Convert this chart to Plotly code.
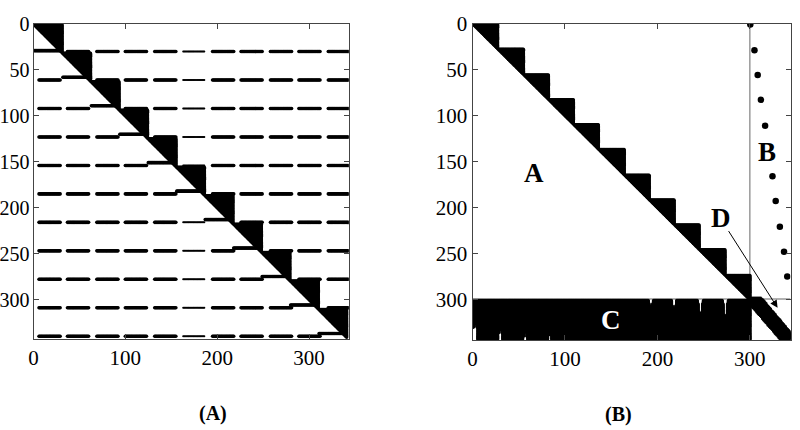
import plotly.graph_objects as go

FONT = "Liberation Serif"

# ---------------- Panel A : sparsity pattern ----------------
A_RANGE = 343
A_BLOCK_FIRST = [1, 32, 63, 94, 125, 156, 187, 218, 249, 280, 311]
A_BLOCK_LAST = [31, 62, 93, 124, 155, 186, 217, 248, 279, 310, 341]
A_COUPLING_ROWS = [30, 61, 92, 123, 154, 185, 216, 247, 278, 309, 340]
A_LEDGE_ROWS = [29, 58, 89, 120, 151, 182, 213, 244, 275, 306, 337]
A_DASH_FIRST = [6, 37, 69, 100, 132, 163, 195, 226, 258, 289, 321]
A_DASH_LAST = [29, 60, 92, 123, 155, 186, 218, 249, 281, 312, 344]
A_THIN_DASH = 5
A_TICKS_X = [0, 100, 200, 300]
A_TICKS_Y = [0, 50, 100, 150, 200, 250, 300]

# ---------------- Panel B : reordered pattern ----------------
B_RANGE = 344
B_BLOCK_EDGES = [0, 27, 55, 82, 109, 136, 164, 191, 218, 245, 273, 300]
B_DOT_ROWS = [1, 29, 56, 83, 111, 138, 166, 193, 221, 248, 275]
B_DOT_COLS = [300.5, 305, 308.5, 312, 316.5, 320.5, 324.5, 328, 332.5, 337, 340.5]
C_ROWS = (301, 344)
C_COLS = (1, 300)
# white slivers inside block C: (centre col, first row, last row, width at first row, width at last row)
C_GAPS = [
    (3, 324, 344, 0, 3),
    (30, 329, 344, 0, 2),
    (57, 333, 344, 0, 1.5),
    (83.5, 336, 344, 0, 1.5),
    (193, 301, 309, 2, 0),
    (218, 301, 313, 2, 0),
    (246.5, 301, 317, 2.5, 0),
    (273.5, 301, 321, 2.5, 0),
]
D_ROWS = list(range(300, 344))
D_LEFT = [300, 300, 300, 300, 301, 302, 303, 303, 304, 305,
          306, 307, 308, 309, 309, 310, 311, 312, 313, 314,
          315, 315, 316, 317, 318, 319, 320, 321, 321, 322,
          323, 324, 325, 326, 327, 327, 328, 329, 330, 331,
          332, 333, 333, 334]
D_RIGHT = [312, 313, 314, 315, 316, 316, 317, 318, 319, 320,
           321, 321, 322, 323, 324, 325, 326, 326, 327, 328,
           329, 330, 331, 332, 332, 333, 334, 335, 336, 337,
           337, 338, 339, 340, 341, 342, 343, 343, 343, 343,
           343, 343, 343, 343]
B_TICKS_X = [0, 100, 200, 300]
B_TICKS_Y = [0, 50, 100, 150, 200, 250, 300]

MARK = 3.6          # px

# ---------- build panel A points ----------
ax_, ay_ = [], []
tx_, ty_ = [], []
for k, (f, l) in enumerate(zip(A_BLOCK_FIRST, A_BLOCK_LAST)):
    for r in range(f, l + 1):
        for c in range(r, l + 1):
            ax_.append(c); ay_.append(r)
    row = A_COUPLING_ROWS[k]
    for j, (df, dl) in enumerate(zip(A_DASH_FIRST, A_DASH_LAST)):
        if j == k:
            for c in range(f, f + 29):
                ax_.append(c); ay_.append(A_LEDGE_ROWS[k])
            continue
        for c in range(df, dl + 1):
            if j == A_THIN_DASH:
                tx_.append(c); ty_.append(row)
            else:
                ax_.append(c); ay_.append(row)

# ---------- build panel B points ----------
bx, by = [], []
for k in range(len(B_BLOCK_EDGES) - 1):
    lo, hi = B_BLOCK_EDGES[k] + 1, B_BLOCK_EDGES[k + 1]
    for r in range(lo, hi + 1):
        for c in range(r, hi + 1):
            bx.append(c); by.append(r)


def c_excluded(r, c):
    for cc, r0, r1, w0, w1 in C_GAPS:
        if r0 <= r <= r1:
            w = w0 + (w1 - w0) * (r - r0) / (r1 - r0)
            if w > 0.4 and abs(c - cc) < (w + 3.0) / 2:
                return True
    return False


for r in range(C_ROWS[0], C_ROWS[1] + 1):
    for c in range(C_COLS[0], C_COLS[1] + 1):
        if not c_excluded(r, c):
            bx.append(c); by.append(r)

dx, dy = [], []
for r, lo, hi in zip(D_ROWS, D_LEFT, D_RIGHT):
    for c in range(lo, hi + 1):
        dx.append(c); dy.append(r)

fig = go.Figure()
fig.add_trace(go.Scatter(x=ax_, y=ay_, mode="markers", xaxis="x", yaxis="y",
                         marker=dict(size=MARK, color="black", line=dict(width=0)),
                         hoverinfo="skip", showlegend=False))
fig.add_trace(go.Scatter(x=tx_, y=ty_, mode="markers", xaxis="x", yaxis="y",
                         marker=dict(size=2.0, color="black", line=dict(width=0)),
                         hoverinfo="skip", showlegend=False))
fig.add_trace(go.Scatter(x=bx, y=by, mode="markers", xaxis="x2", yaxis="y2",
                         marker=dict(size=MARK, color="black", line=dict(width=0)),
                         hoverinfo="skip", showlegend=False))
fig.add_trace(go.Scatter(x=dx, y=dy, mode="markers", xaxis="x2", yaxis="y2",
                         marker=dict(size=4.5, symbol="cross", color="black", line=dict(width=0)),
                         hoverinfo="skip", showlegend=False))
fig.add_trace(go.Scatter(x=B_DOT_COLS, y=B_DOT_ROWS, mode="markers", xaxis="x2", yaxis="y2",
                         marker=dict(size=6.5, color="black", line=dict(width=0)),
                         hoverinfo="skip", showlegend=False))

W, H = 800, 430
axis_common = dict(showgrid=False, zeroline=False, showline=True, linecolor="#444",
                   linewidth=1, mirror="ticks", ticks="inside", ticklen=5, tickcolor="#444",
                   automargin=False)
tick21 = dict(family=FONT, size=21, color="black")
tick20 = dict(family=FONT, size=20, color="black")

fig.update_layout(
    width=W, height=H, margin=dict(l=0, r=0, t=0, b=0, autoexpand=False),
    paper_bgcolor="white", plot_bgcolor="white",
    xaxis=dict(domain=[33.5 / W, 348.5 / W], range=[0, A_RANGE], tickvals=A_TICKS_X,
               anchor="y", tickfont=tick21, **axis_common),
    yaxis=dict(domain=[1 - 339 / H, 1 - 24 / H], range=[A_RANGE, 0], tickvals=A_TICKS_Y,
               anchor="x", ticklabelstandoff=-1, tickfont=tick20, **axis_common),
    xaxis2=dict(domain=[472.5 / W, 790.5 / W], range=[0, B_RANGE], tickvals=B_TICKS_X,
                anchor="y2", tickfont=tick21, **axis_common),
    yaxis2=dict(domain=[1 - 340 / H, 1 - 23.5 / H], range=[B_RANGE, 0], tickvals=B_TICKS_Y,
                anchor="x2", tickfont=tick21, **axis_common),
    shapes=[
        dict(type="line", xref="x2", yref="y2", x0=300, x1=300, y0=0, y1=B_RANGE,
             line=dict(color="#999999", width=1.5), layer="below"),
        dict(type="line", xref="x2", yref="y2", x0=0, x1=B_RANGE, y0=299.5, y1=299.5,
             line=dict(color="#999999", width=1.5), layer="below"),
    ],
    annotations=[
        dict(x=67, y=162, xref="x2", yref="y2", text="<b>A</b>", showarrow=False,
             font=dict(family=FONT, size=27, color="black")),
        dict(x=319, y=140, xref="x2", yref="y2", text="<b>B</b>", showarrow=False,
             bgcolor="white", borderpad=0,
             font=dict(family=FONT, size=27, color="black")),
        dict(x=150, y=322, xref="x2", yref="y2", text="<b>C</b>", showarrow=False,
             font=dict(family=FONT, size=27, color="white")),
        dict(x=268.5, y=211, xref="x2", yref="y2", text="<b>D</b>", showarrow=False,
             font=dict(family=FONT, size=27, color="black")),
        dict(x=330, y=309, xref="x2", yref="y2", ax=276, ay=224, axref="x2", ayref="y2",
             text="", showarrow=True, arrowhead=2, arrowsize=1.5, arrowwidth=1,
             arrowcolor="black", standoff=0),
        dict(x=197 / W, y=1 - 413 / H, xref="paper", yref="paper", text="<b>(A)</b>",
             showarrow=False, yanchor="middle",
             font=dict(family=FONT, size=20, color="black")),
        dict(x=634 / W, y=1 - 414 / H, xref="paper", yref="paper", text="<b>(B)</b>",
             showarrow=False, yanchor="middle",
             font=dict(family=FONT, size=20, color="black")),
    ],
)

fig.write_html("out.html")
